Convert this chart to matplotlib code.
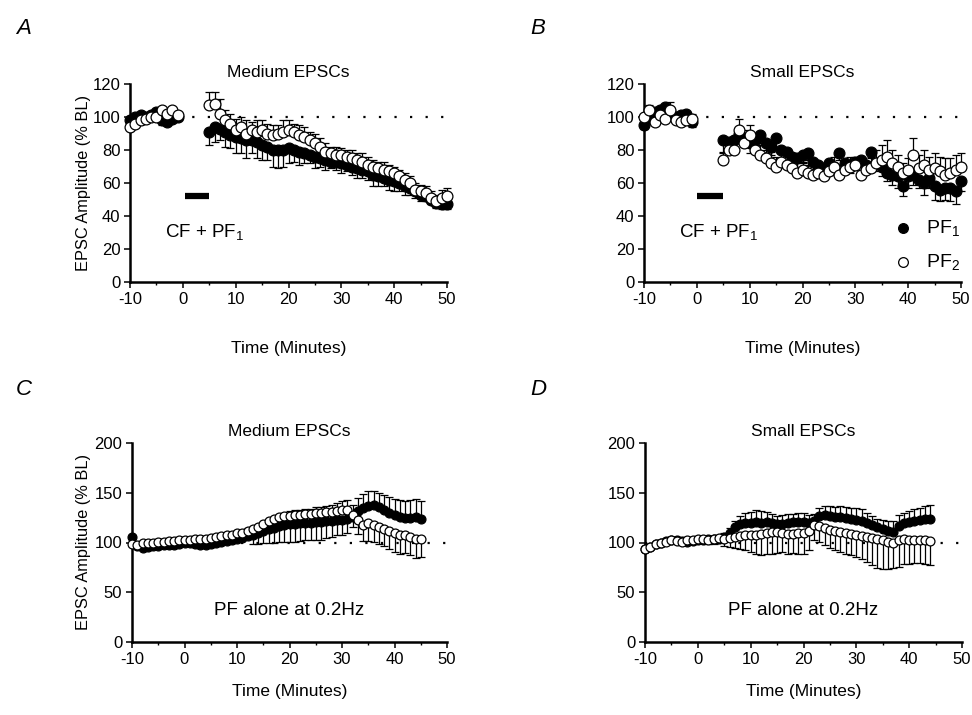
import matplotlib
matplotlib.use('Agg')
import matplotlib.pyplot as plt
from matplotlib.ticker import MultipleLocator

plt.rcParams['font.family'] = ['Liberation Sans', 'DejaVu Sans']
plt.rcParams['mathtext.fontset'] = 'custom'
plt.rcParams['mathtext.rm'] = 'Liberation Sans'
plt.rcParams['mathtext.it'] = 'Liberation Sans:italic'
plt.rcParams['mathtext.bf'] = 'Liberation Sans:bold'
plt.rcParams['axes.unicode_minus'] = False

# ---------------- data ----------------
# Panels A/B: baseline (-10..-1) and post-pairing (5..50), one point per minute
t_base = list(range(-10, 0))
t_post = list(range(5, 51))
# Panels C/D
t_c = list(range(-10, 46))
t_d = list(range(-10, 45))

# Panel A (Medium EPSCs, CF + PF1)
a_pf1_base = [98, 100, 101, 100, 101, 103, 98, 97, 99, 100]
a_pf2_base = [94, 96, 98, 99, 100, 100, 104, 102, 104, 101]
a_pf1_post = [91, 94, 93, 91, 89, 88, 87, 86, 86, 85, 83, 82, 80, 80, 80, 81,
              80, 79, 78, 77, 76, 75, 74, 73, 73, 72, 71, 70, 69, 68, 67, 65,
              64, 63, 62, 61, 60, 58, 57, 55, 53, 52, 50, 48, 47, 47]
a_pf2_post = [107, 108, 102, 98, 96, 92, 94, 90, 92, 91, 92, 90, 89, 90, 91, 92,
              91, 89, 88, 86, 84, 82, 79, 78, 77, 77, 76, 75, 74, 73, 71, 70,
              69, 68, 67, 66, 64, 62, 60, 56, 55, 54, 51, 49, 51, 52]
# signed errors: negative = bar drawn downward, positive = upward
a_pf1_base_err = [-2, -2, -2, -2, -2, -2, -3, -2, -2, -2]
a_pf2_base_err = [2, 2, 2, 2, 2, 3, 2, 2, 2, 2]
a_pf1_post_err = [-8, -9, -7, -9, -8, -10, -9, -11, -8, -10, -9, -8, -10, -11, -10, -9,
                  -7, -8, -6, -5, -7, -5, -6, -4, -5, -6, -4, -5, -6, -5, -5, -7,
                  -6, -5, -6, -6, -5, -5, -4, -4, -4, -3, -3, -3, -3, -3]
a_pf2_post_err = [8, 7, 9, 6, 6, 7, 6, 8, 5, 7, 6, 6, 6, 5, 7, 6, 5, 6, 6, 5, 6, 5,
                  5, 4, 5, 4, 4, 5, 4, 5, 5, 4, 4, 5, 4, 4, 4, 4, 4, 4, 4, 4, 4, 4, 5, 5]

# Panel B (Small EPSCs, CF + PF1)
b_pf1_base = [95, 100, 103, 104, 106, 103, 100, 101, 102, 97]
b_pf2_base = [100, 104, 97, 101, 99, 104, 98, 97, 98, 99]
b_pf1_post = [86, 85, 86, 90, 87, 84, 86, 89, 84, 82, 87, 80, 79, 76, 75, 77,
              78, 73, 71, 69, 72, 70, 78, 72, 70, 73, 74, 71, 79, 72, 70, 66,
              65, 64, 58, 64, 65, 62, 60, 63, 58, 56, 57, 57, 55, 61]
b_pf2_post = [74, 80, 80, 92, 84, 89, 80, 77, 75, 72, 70, 73, 71, 69, 66, 68,
              66, 65, 66, 64, 67, 70, 65, 68, 70, 71, 65, 68, 69, 72, 74, 76,
              72, 70, 66, 68, 77, 69, 71, 68, 69, 67, 65, 66, 68, 70]
b_pf1_base_err = [-2, -3, -3, -4, -4, -3, -3, -2, -3, -3]
b_pf2_base_err = [2, 3, 3, 4, 4, 5, 3, 2, 3, 3]
b_pf1_post_err = [-8, -6, -7, -6, -5, -6, -7, -5, -6, -5, -6, -5, -5, -6, -5, -5,
                  -4, -5, -4, -5, -4, -5, -4, -5, -4, -5, -4, -5, -4, -5, -6, -5,
                  -6, -7, -6, -7, -6, -5, -7, -6, -8, -7, -7, -8, -8, -6]
b_pf2_post_err = [5, 6, 8, 7, 8, 6, 5, 6, 5, 7, 6, 5, 6, 5, 6, 5, 5, 6, 5, 6, 5, 6,
                  6, 5, 6, 5, 6, 5, 7, 8, 9, 10, 8, 7, 6, 7, 10, 8, 9, 8, 9, 9,
                  10, 9, 9, 8]

# Panel C (Medium EPSCs, PF alone)
c_pf1 = [106, 96, 94, 95, 96, 96, 97, 97, 97, 98,
         99, 99, 98, 97, 97, 98, 100, 101, 102, 103,
         104, 105, 107, 108, 110, 112, 114, 115, 117, 118,
         119, 119, 120, 120, 120, 121, 121, 122, 122, 123,
         123, 124, 126, 132, 135, 137, 138, 136, 133, 130,
         128, 126, 125, 125, 126, 124]
c_pf2 = [98, 97, 99, 100, 100, 101, 101, 102, 102, 103,
         103, 103, 104, 104, 104, 105, 106, 107, 108, 108,
         110, 110, 112, 114, 116, 119, 122, 124, 126, 127,
         127, 128, 128, 129, 129, 130, 130, 131, 131, 132,
         133, 133, 128, 123, 118, 120, 118, 116, 114, 112,
         110, 108, 108, 106, 104, 104]
c_pf1_err = [2, 2, 2, 2, 2, 3, 3, 3, 3, 3,
             3, 3, 3, 3, 4, 4, 4, 5, 5, 6,
             6, 7, 8, -10, -12, -13, -14, -15, -16, -17,
             -18, -18, -18, -17, -17, -18, -18, -17, -16, -15,
             -15, -14, 12, 13, 14, 15, 14, 14, 15, 16,
             16, 17, 17, 18, 18, 18]
c_pf2_err = [-2, -2, -2, -2, -2, -2, -2, -2, -2, -2,
             -3, -3, -3, -3, -3, -3, -3, -3, -3, -3,
             -4, -4, -4, -4, -4, -4, -4, -5, -5, -5,
             5, 5, 5, 5, 5, 6, 6, 6, 7, 8,
             9, 10, -12, -14, -16, -18, -17, -18, -18, -19,
             -20, -20, -19, -19, -20, -19]

# Panel D (Small EPSCs, PF alone)
d_pf1 = [93, 95, 98, 99, 102, 103, 103, 102, 101, 102,
         103, 103, 104, 104, 104, 106, 110, 116, 119, 120,
         120, 121, 120, 121, 120, 119, 119, 120, 121, 121,
         121, 120, 122, 127, 128, 127, 126, 126, 125, 124,
         123, 122, 120, 118, 116, 114, 112, 111, 117, 120,
         121, 122, 123, 124, 124]
d_pf2 = [93, 95, 98, 100, 101, 103, 102, 101, 103, 103,
         104, 104, 103, 104, 105, 104, 105, 106, 107, 108,
         108, 108, 109, 110, 111, 111, 110, 109, 109, 110,
         110, 112, 118, 117, 115, 113, 112, 111, 110, 109,
         108, 107, 106, 105, 104, 103, 101, 100, 103, 104,
         103, 103, 103, 103, 102]
d_pf1_err = [2, 2, 2, 3, 2, 3, 2, 3, 2, 3,
             3, 3, 3, 3, 4, 4, 5, 6, 8, 10,
             11, 12, 12, 10, 9, 8, 9, 9, 8, 9,
             9, 8, 7, 8, 9, 10, 10, 11, 11, 11,
             12, 12, 10, 9, 8, 9, 10, 11, 11, 10,
             11, 12, 12, 13, 14]
d_pf2_err = [-2, -2, -2, -2, -2, -2, -2, -3, -3, -3,
             -3, -4, -5, -6, -6, -8, -10, -12, -14, -16,
             -18, -20, -22, -22, -23, -22, -20, -21, -20, -22,
             -22, -20, -15, -16, -18, -19, -20, -21, -22, -22,
             -23, -24, -26, -28, -30, -30, -28, -26, -28, -26,
             -25, -24, -24, -25, -25]

# ---------------- figure ----------------
fig = plt.figure(figsize=(9.72, 7.15), dpi=100)

W, H = 972.0, 715.0
def axes_px(left, right, bottom, top):
    return fig.add_axes([left / W, 1 - bottom / H, (right - left) / W, (bottom - top) / H])

axA = axes_px(130, 447, 282, 84)
axB = axes_px(644, 961, 282, 84)
axC = axes_px(132, 447, 642, 443)
axD = axes_px(645, 962, 642, 443)

FS = 12.5


def draw(ax, t, y, err, filled, ms, z):
    lo = [max(-e, 0) for e in err]
    hi = [max(e, 0) for e in err]
    ax.errorbar(t, y, yerr=[lo, hi], fmt='none', ecolor='black', elinewidth=0.9,
                capsize=2.6, capthick=0.9, zorder=z, clip_on=False)
    ax.plot(t, y, 'o', ms=ms, mfc='black' if filled else 'white', mec='black',
            mew=0.9, zorder=z + 0.5, clip_on=False, linestyle='none')


def style(ax, ymax, ystep, title):
    ax.set_xlim(-10, 50)
    ax.set_ylim(0, ymax)
    for s in ('top', 'right'):
        ax.spines[s].set_visible(False)
    for s in ('left', 'bottom'):
        ax.spines[s].set_linewidth(1.8)
    ax.xaxis.set_major_locator(MultipleLocator(10))
    ax.xaxis.set_minor_locator(MultipleLocator(5))
    ax.yaxis.set_major_locator(MultipleLocator(ystep))
    ax.tick_params(axis='both', which='major', direction='out', length=4, width=1.1,
                   labelsize=12, pad=3)
    ax.tick_params(axis='x', which='minor', direction='out', length=2.5, width=1.0)
    ax.axhline(100, color='black', lw=1.6, ls=(0, (1, 6)), zorder=1)
    ax.set_title(title, fontsize=FS, pad=5)
    ax.set_xlabel('Time (Minutes)', fontsize=FS)
    ax.patch.set_visible(False)


# Panel A
style(axA, 120, 20, 'Medium EPSCs')
draw(axA, t_base, a_pf1_base, a_pf1_base_err, True, 7.8, 2)
draw(axA, t_post, a_pf1_post, a_pf1_post_err, True, 7.8, 2)
draw(axA, t_base, a_pf2_base, a_pf2_base_err, False, 7.8, 3)
draw(axA, t_post, a_pf2_post, a_pf2_post_err, False, 7.8, 3)
axA.plot([0.5, 5], [52, 52], color='black', lw=4.5, solid_capstyle='butt')
axA.text(4.2, 30, 'CF + PF$_1$', ha='center', va='center', fontsize=13.5)
axA.set_ylabel('EPSC Amplitude (% BL)', fontsize=11.8)
axA.yaxis.set_label_coords(-0.124, 0.5)
axA.xaxis.set_label_coords(0.5, -0.30)

# Panel B
style(axB, 120, 20, 'Small EPSCs')
draw(axB, t_base, b_pf1_base, b_pf1_base_err, True, 7.8, 2)
draw(axB, t_post, b_pf1_post, b_pf1_post_err, True, 7.8, 2)
draw(axB, t_base, b_pf2_base, b_pf2_base_err, False, 7.8, 3)
draw(axB, t_post, b_pf2_post, b_pf2_post_err, False, 7.8, 3)
axB.plot([0, 5], [52, 52], color='black', lw=4.5, solid_capstyle='butt')
axB.text(4.2, 30, 'CF + PF$_1$', ha='center', va='center', fontsize=13.5)
axB.plot([39], [33], 'o', ms=7, mfc='black', mec='black', mew=0.9)
axB.plot([39], [12], 'o', ms=7, mfc='white', mec='black', mew=0.9)
axB.text(43.3, 33, 'PF$_1$', ha='left', va='center', fontsize=14)
axB.text(43.3, 12, 'PF$_2$', ha='left', va='center', fontsize=14)
axB.xaxis.set_label_coords(0.5, -0.30)

# Panel C
style(axC, 200, 50, 'Medium EPSCs')
draw(axC, t_c, c_pf1, c_pf1_err, True, 6.4, 2)
draw(axC, t_c, c_pf2, c_pf2_err, False, 6.4, 3)
axC.text(20, 32, 'PF alone at 0.2Hz', ha='center', va='center', fontsize=13.5)
axC.set_ylabel('EPSC Amplitude (% BL)', fontsize=11.8)
axC.yaxis.set_label_coords(-0.13, 0.5)
axC.xaxis.set_label_coords(0.5, -0.21)

# Panel D
style(axD, 200, 50, 'Small EPSCs')
draw(axD, t_d, d_pf1, d_pf1_err, True, 6.4, 2)
draw(axD, t_d, d_pf2, d_pf2_err, False, 6.4, 3)
axD.text(20, 32, 'PF alone at 0.2Hz', ha='center', va='center', fontsize=13.5)
axD.xaxis.set_label_coords(0.5, -0.21)

# Panel letters
for lbl, x, y in (('A', 16, 28), ('B', 530, 28), ('C', 16, 390), ('D', 530, 390)):
    fig.text(x / W, 1 - y / H, lbl, fontsize=16, style='italic', ha='left', va='center')

fig.savefig('out.png', dpi=100)
